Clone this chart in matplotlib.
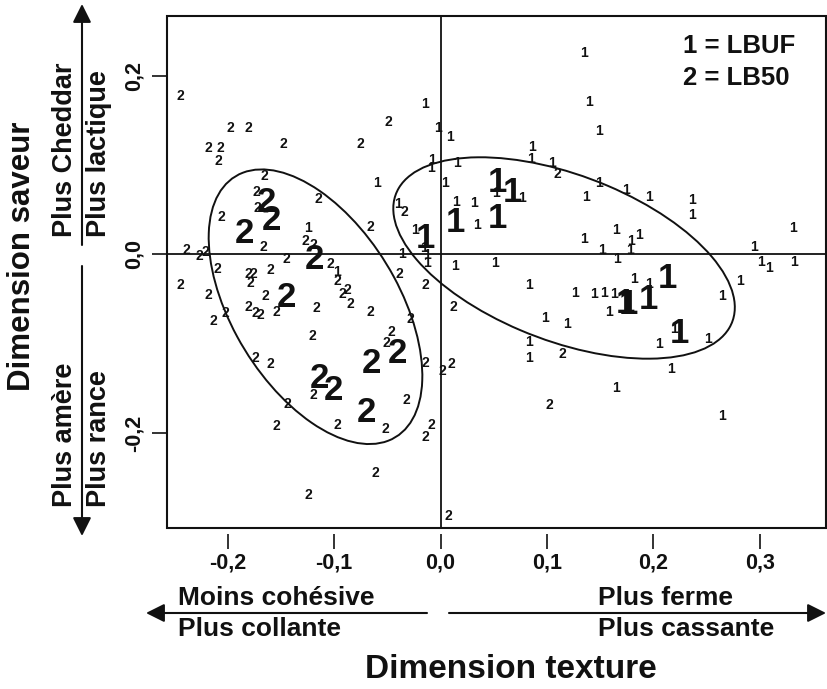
import numpy as np
import matplotlib
matplotlib.use("Agg")
import matplotlib.pyplot as plt
from matplotlib.patches import Ellipse, Rectangle, FancyArrowPatch

plt.rcParams["font.family"] = ["Liberation Sans", "DejaVu Sans"]
plt.rcParams["font.weight"] = "bold"

INK = "#111111"

# Individual assessments, LB50 (label "2")
lb50_x = [-0.2448, -0.1978, -0.1806, -0.1477, -0.0757, -0.0491, -0.2182, -0.2072,
          -0.2088, -0.1659, -0.1734, -0.1722, -0.2056, -0.1148, -0.1665, -0.1274,
          -0.1195, -0.0663, -0.0343, -0.2385, -0.2267, -0.2213, -0.1445, -0.1039,
          -0.2101, -0.1806, -0.1759, -0.1790, -0.1602, -0.2448, -0.0973, -0.2182,
          -0.1649, -0.0919, -0.0879, -0.0846, -0.0390, -0.0146, -0.1164, -0.1806,
          -0.1743, -0.1696, -0.1539, -0.2025, -0.2135, -0.0658, -0.0287, -0.1208,
          -0.0459, -0.0512, -0.0146, 0.0014, 0.0097, -0.1743, -0.1602, -0.1195,
          -0.0318, -0.1443, -0.1539, -0.0973, -0.0522, -0.0083, -0.0141, -0.0616,
          -0.1242, 0.0122, 0.1142, 0.1020, 0.0074, 0.1095]
lb50_y = [0.1797, 0.1431, 0.1431, 0.1256, 0.1256, 0.1506, 0.1207, 0.1207,
          0.1069, 0.0901, 0.0714, 0.0543, 0.0442, 0.0641, 0.0106, 0.0170,
          0.0125, 0.0330, 0.0498, 0.0069, 0.0002, 0.0050, -0.0031, -0.0095,
          -0.0151, -0.0196, -0.0196, -0.0305, -0.0162, -0.0323, -0.0280, -0.0434,
          -0.0446, -0.0423, -0.0378, -0.0532, -0.0207, -0.0330, -0.0577, -0.0571,
          -0.0633, -0.0666, -0.0622, -0.0633, -0.0726, -0.0625, -0.0711, -0.0901,
          -0.0851, -0.0974, -0.1193, -0.1288, -0.1204, -0.1137, -0.1212, -0.1562,
          -0.1618, -0.1652, -0.1909, -0.1898, -0.1935, -0.1898, -0.2032, -0.2432,
          -0.2682, -0.0569, -0.1097, -0.1667, -0.2914, 0.0913]

# Individual assessments, LBUF (label "1")
lbuf_x = [-0.1242, -0.0976, -0.0362, -0.0397, -0.0240, -0.0155, -0.0127, -0.0127,
          -0.0600, -0.0146, -0.0021, -0.0083, -0.0089,
          0.0089, 0.0155, 0.0857, 0.0851, 0.1048, 0.0042, 0.0141, 0.0310,
          0.0522, 0.0764, 0.0341, 0.1353, 0.1396, 0.1490, 0.1490, 0.1363,
          0.1739, 0.1958, 0.2367, 0.2367, 0.1346, 0.1645, 0.1786, 0.1864,
          0.1518, 0.1784, 0.1662, 0.2946, 0.3309, 0.3010, 0.3089, 0.3325,
          0.0137, 0.0514, 0.0830, 0.1268, 0.1441, 0.1535, 0.1629, 0.1819,
          0.1955, 0.1581, 0.0985, 0.1189, 0.2197, 0.2054, 0.2514, 0.2641,
          0.2815, 0.0832, 0.0832, 0.2166, 0.1649, 0.2641]
lbuf_y = [0.0311, -0.0179, 0.0022, 0.0582, 0.0293, 0.0084, 0.0006, -0.0073,
          0.0815, 0.1704, 0.1428, 0.1075, 0.0983,
          0.1333, 0.1036, 0.1223, 0.1081, 0.1036, 0.0812, 0.0605, 0.0599,
          0.0700, 0.0649, 0.0342, 0.2268, 0.1725, 0.1405, 0.0817, 0.0661,
          0.0737, 0.0661, 0.0624, 0.0456, 0.0194, 0.0288, 0.0166, 0.0239,
          0.0063, 0.0063, -0.0031, 0.0106, 0.0308, -0.0071, -0.0131, -0.0071,
          -0.0112, -0.0081, -0.0325, -0.0412, -0.0429, -0.0412, -0.0429, -0.0252,
          -0.0315, -0.0630, -0.0691, -0.0759, -0.0812, -0.0980, -0.0924, -0.0445,
          -0.0280, -0.0963, -0.1142, -0.1271, -0.1480, -0.1788]

# Cheese means
lbuf_mean_x = [-0.0146, 0.0136, 0.0531, 0.0536, 0.0674, 0.2133, 0.1739, 0.1762, 0.1958, 0.2246]
lbuf_mean_y = [0.0218, 0.0392, 0.0437, 0.0851, 0.0728, -0.0224, -0.0510, -0.0526, -0.0465, -0.0848]
lb50_mean_x = [-0.1842, -0.1633, -0.1586, -0.1187, -0.1452, -0.1142, -0.1005, -0.0653, -0.0409, -0.0700]
lb50_mean_y = [0.0274, 0.0624, 0.0423, -0.0022, -0.0442, -0.1355, -0.1480, -0.1181, -0.1069, -0.1728]

# Group ellipses: centre and covariance (sxx, syy, sxy)
ell_lb50 = dict(center=(-0.1175, -0.0585), sxx=0.01008, syy=0.02365, sxy=-0.00778)
ell_lbuf = dict(center=(0.1161, -0.0039), sxx=0.02576, syy=0.01272, sxy=-0.00888)

x_ticks = [-0.2, -0.1, 0.0, 0.1, 0.2, 0.3]
y_ticks = [-0.2, 0.0, 0.2]


def comma(v):
    return f"{v:.1f}".replace(".", ",").replace("-0,0", "0,0")


W, H = 828, 689
fig = plt.figure(figsize=(W / 100, H / 100), dpi=100)
L, R, T, B = 167.3, 826.0, 16.0, 528.0
ax = fig.add_axes([L / W, 1 - B / H, (R - L) / W, (B - T) / H])
ax.set_xlim(-0.2568, 0.3623)
ax.set_ylim(-0.3063, 0.2671)

for s in ax.spines.values():
    s.set_visible(False)
ax.spines["bottom"].set_position(("outward", 4))
ax.add_patch(Rectangle((0, 0), 1, 1, transform=ax.transAxes, fill=False,
                       lw=1.5, ec=INK, clip_on=False, zorder=5))

ax.set_xticks(x_ticks)
ax.set_xticklabels([comma(v) for v in x_ticks], fontsize=15.5, fontweight="bold", color=INK)
ax.set_yticks(y_ticks)
ax.set_yticklabels([comma(v) for v in y_ticks], fontsize=15.5, fontweight="bold",
                   color=INK, rotation=90, va="center")
ax.tick_params(axis="x", length=11, width=1.2, color=INK, pad=3)
ax.tick_params(axis="y", length=11, width=1.2, color=INK, pad=5)

ax.axhline(0, color=INK, lw=1.3, zorder=1)
ax.axvline(0, color=INK, lw=1.3, zorder=1)

for e in (ell_lb50, ell_lbuf):
    cov = np.array([[e["sxx"], e["sxy"]], [e["sxy"], e["syy"]]])
    vals, vecs = np.linalg.eigh(cov)
    ang = np.degrees(np.arctan2(vecs[1, 1], vecs[0, 1]))
    ax.add_patch(Ellipse(e["center"], 2 * np.sqrt(vals[1]), 2 * np.sqrt(vals[0]),
                         angle=ang, fill=False, ec=INK, lw=1.4, zorder=2))

for xs, ys, lab, size in ((lb50_x, lb50_y, "2", 10), (lbuf_x, lbuf_y, "1", 10),
                          (lb50_mean_x, lb50_mean_y, "2", 25),
                          (lbuf_mean_x, lbuf_mean_y, "1", 25)):
    for x, y in zip(xs, ys):
        ax.text(x, y, lab, fontsize=size, fontweight="bold", color=INK,
                ha="center", va="center_baseline", zorder=3)

ax.text(0.783, 0.928, "1 = LBUF", transform=ax.transAxes, fontsize=18.5,
        fontweight="bold", color=INK, ha="left", va="baseline")
ax.text(0.783, 0.865, "2 = LB50", transform=ax.transAxes, fontsize=18.5,
        fontweight="bold", color=INK, ha="left", va="baseline")


def px(x, y):
    return (x / W, 1 - y / H)


arrow = dict(arrowstyle="-|>,head_length=0.8,head_width=0.4", lw=1.5,
             color=INK, mutation_scale=14, shrinkA=0, shrinkB=0)
for start, tip in (((82, 245), (82, 4)), ((82, 266), (82, 536)),
                   ((427, 613), (146, 613)), ((449, 613), (826, 613))):
    fig.add_artist(FancyArrowPatch(px(*start), px(*tip),
                                   transform=fig.transFigure, **arrow))

side = dict(fontsize=19.5, fontweight="bold", color=INK)
fig.text(*px(22, 256), "Dimension saveur", rotation=90, ha="center", va="center",
         fontsize=22.5, fontweight="bold", color=INK)
fig.text(*px(65, 237), "Plus Cheddar", rotation=90, rotation_mode="anchor",
         ha="left", va="center", **side)
fig.text(*px(99, 237), "Plus lactique", rotation=90, rotation_mode="anchor",
         ha="left", va="center", **side)
fig.text(*px(65, 507), "Plus amère", rotation=90, rotation_mode="anchor",
         ha="left", va="center", **side)
fig.text(*px(99, 507), "Plus rance", rotation=90, rotation_mode="anchor",
         ha="left", va="center", **side)
side["fontsize"] = 19
fig.text(*px(178, 598), "Moins cohésive", ha="left", va="center", **side)
fig.text(*px(178, 629), "Plus collante", ha="left", va="center", **side)
fig.text(*px(598, 598), "Plus ferme", ha="left", va="center", **side)
fig.text(*px(598, 629), "Plus cassante", ha="left", va="center", **side)
fig.text(*px(511, 670), "Dimension texture", ha="center", va="center",
         fontsize=24, fontweight="bold", color=INK)

fig.savefig("out.png", dpi=100, facecolor="white")
